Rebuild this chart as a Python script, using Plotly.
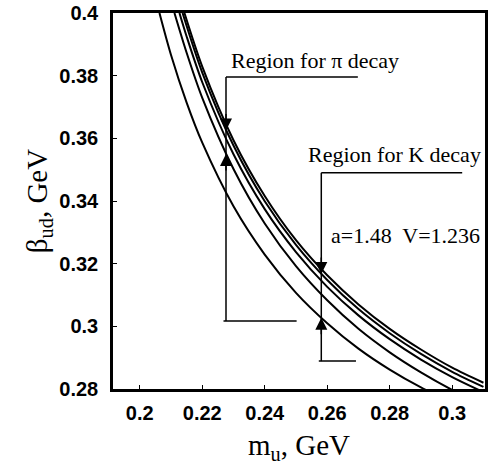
import plotly.graph_objects as go

# ---- data ----
m1 = [0.2063, 0.21, 0.215, 0.22, 0.23, 0.24, 0.25, 0.26, 0.27, 0.28, 0.29, 0.30]
b1 = [0.400, 0.3866, 0.3714, 0.3586, 0.3383, 0.3229, 0.3107, 0.3010, 0.2929, 0.2862, 0.2805, 0.2756]

m2 = [0.2111, 0.215, 0.22, 0.23, 0.24, 0.25, 0.26, 0.27, 0.28, 0.29, 0.30, 0.31]
b2 = [0.400, 0.3873, 0.3729, 0.3502, 0.3328, 0.3192, 0.3083, 0.2992, 0.2917, 0.2853, 0.2797, 0.2749]

m3 = [0.2127, 0.215, 0.22, 0.23, 0.24, 0.25, 0.26, 0.27, 0.28, 0.29, 0.30, 0.31]
b3 = [0.400, 0.3925, 0.3779, 0.3549, 0.3374, 0.3237, 0.3126, 0.3035, 0.2959, 0.2894, 0.2838, 0.2790]

m4 = [0.2137, 0.22, 0.23, 0.24, 0.25, 0.26, 0.27, 0.28, 0.29, 0.30, 0.31]
b4 = [0.400, 0.3810, 0.3577, 0.3399, 0.3260, 0.3148, 0.3055, 0.2978, 0.2912, 0.2855, 0.2807]

m5 = [0.2143, 0.22, 0.23, 0.24, 0.25, 0.26, 0.27, 0.28, 0.29, 0.30, 0.31]
b5 = [0.400, 0.3829, 0.3594, 0.3416, 0.3275, 0.3163, 0.3070, 0.2992, 0.2926, 0.2868, 0.2820]

x_ticks = [0.2, 0.22, 0.24, 0.26, 0.28, 0.3]
x_tick_labels = ["0.2", "0.22", "0.24", "0.26", "0.28", "0.3"]
y_ticks = [0.28, 0.3, 0.32, 0.34, 0.36, 0.38, 0.4]
y_tick_labels = ["0.28", "0.3", "0.32", "0.34", "0.36", "0.38", "0.4"]

# bracket markers: [m_vertical, beta_top, beta_bottom, m_top_end, m_bottom_end, beta_arrow_down, beta_arrow_up]
pi_bracket = [0.2276, 0.3796, 0.3017, 0.2698, 0.2502, 0.3625, 0.3550]
k_bracket = [0.2581, 0.3490, 0.2889, 0.3032, 0.2692, 0.3167, 0.3027]

labels = ["Region for π decay", "Region for K decay", "a=1.48  V=1.236"]
label_pos = [(0.2562, 0.3850), (0.2816, 0.3547), (0.2851, 0.3289)]

fig = go.Figure()
for mm, bb in [(m1, b1), (m2, b2), (m3, b3), (m4, b4), (m5, b5)]:
    fig.add_trace(go.Scatter(x=mm, y=bb, mode="lines",
                             line=dict(color="black", width=2, shape="spline", smoothing=0.8),
                             showlegend=False, hoverinfo="skip"))

for br in (pi_bracket, k_bracket):
    mv, bt, bbm, mt, mb, bd, bu = br
    fig.add_shape(type="line", x0=mv, x1=mt, y0=bt, y1=bt, line=dict(color="black", width=1.5))
    fig.add_shape(type="line", x0=mv, x1=mv, y0=bt, y1=bbm, line=dict(color="black", width=1.5))
    fig.add_shape(type="line", x0=mv - 0.0008, x1=mb, y0=bbm, y1=bbm, line=dict(color="black", width=1.5))
    fig.add_annotation(x=mv, y=bd, ax=0, ay=-18, text="", showarrow=True,
                       arrowhead=2, arrowsize=1.6, arrowwidth=1.5, arrowcolor="black")
    fig.add_annotation(x=mv, y=bu, ax=0, ay=18, text="", showarrow=True,
                       arrowhead=2, arrowsize=1.6, arrowwidth=1.5, arrowcolor="black")

for txt, (lx, ly) in zip(labels, label_pos):
    fig.add_annotation(x=lx, y=ly, text=txt, showarrow=False,
                       font=dict(family="Liberation Serif", size=22, color="black"))

tickfont = dict(family="Liberation Sans Narrow, Arial Narrow, Liberation Sans", size=20,
                color="black", weight="bold")

fig.update_layout(
    width=490, height=468,
    margin=dict(l=113, r=2, t=13, b=79),
    paper_bgcolor="white", plot_bgcolor="white",
    xaxis=dict(range=[0.19143, 0.3105], tickvals=x_ticks, ticktext=x_tick_labels,
               showgrid=False, zeroline=False, showline=True, linecolor="black", linewidth=2.5,
               mirror=True, ticks="inside", ticklen=4, tickcolor="black", tickfont=tickfont,
               ticklabelstandoff=4,
               title=dict(text="m<sub>u</sub>, GeV", standoff=12,
                          font=dict(family="Liberation Serif", size=29, color="black"))),
    yaxis=dict(range=[0.28, 0.4], tickvals=y_ticks, ticktext=y_tick_labels,
               showgrid=False, zeroline=False, showline=True, linecolor="black", linewidth=2.5,
               mirror=True, ticks="inside", ticklen=4, tickcolor="black", tickfont=tickfont,
               ticklabelstandoff=8,
               title=dict(text="β<sub>ud</sub>, GeV", standoff=4,
                          font=dict(family="Liberation Serif", size=29, color="black"))),
)

fig.write_html("out.html")
